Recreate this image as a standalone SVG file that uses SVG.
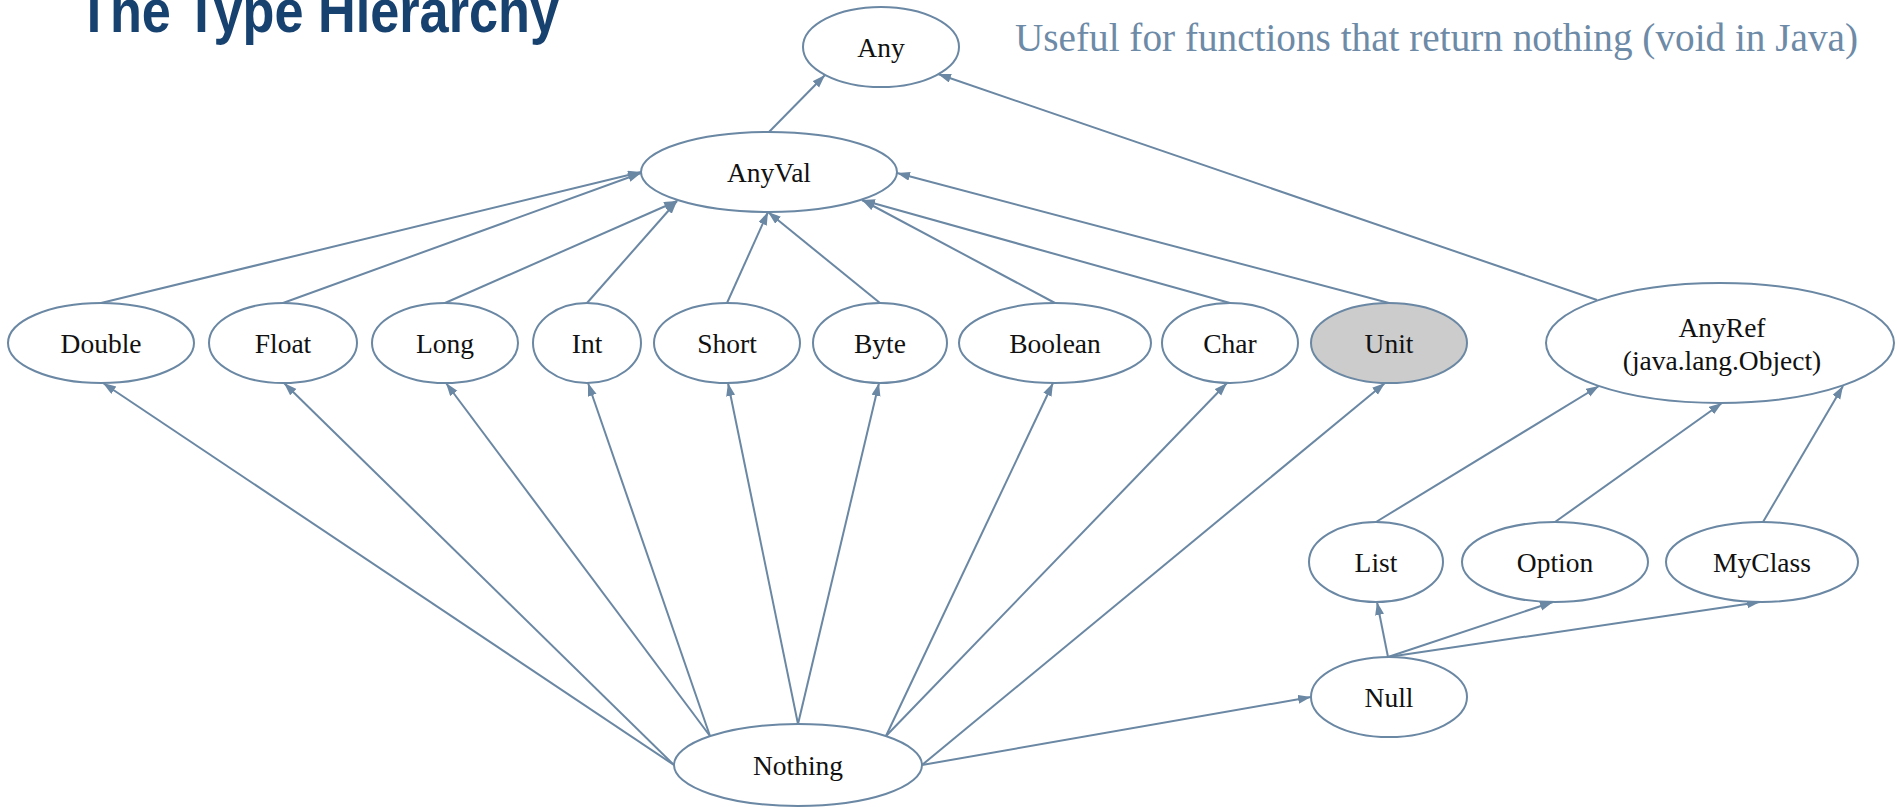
<svg xmlns="http://www.w3.org/2000/svg" width="1897" height="807" viewBox="0 0 1897 807">
<style>
.n ellipse{fill:#ffffff;stroke:#6a87a3;stroke-width:2}
.n text{font-family:"Liberation Serif","DejaVu Serif",serif;font-size:27.5px;fill:#111111;text-anchor:middle}
#edges line{stroke:#6a87a3;stroke-width:2;fill:none;marker-end:url(#ah)}
.title{font-family:"Liberation Sans Narrow","Liberation Sans",sans-serif;font-size:62px;font-weight:bold;fill:#17416f}
.sub{font-family:"Liberation Serif","DejaVu Serif",serif;font-size:39px;fill:#6d8aa7}
</style>
<defs>
<marker id="ah" markerUnits="userSpaceOnUse" markerWidth="14" markerHeight="10" refX="13" refY="4.5" orient="auto">
<path d="M0,0 L13,4.5 L0,9 z" fill="#6a87a3"/>
</marker>
</defs>
<rect width="1897" height="807" fill="#ffffff"/>
<text class="title" x="78" y="32" textLength="481" lengthAdjust="spacingAndGlyphs">The Type Hierarchy</text>
<text class="sub" x="1015" y="51" textLength="843" lengthAdjust="spacingAndGlyphs">Useful for functions that return nothing (void in Java)</text>
<g id="edges">
<line x1="769" y1="132" x2="825" y2="75"/>
<line x1="1597" y1="300" x2="938" y2="74"/>
<line x1="101" y1="303" x2="641" y2="172"/>
<line x1="283" y1="303" x2="641" y2="173"/>
<line x1="445" y1="303" x2="677" y2="201"/>
<line x1="587" y1="303" x2="677" y2="201"/>
<line x1="727" y1="303" x2="768" y2="212"/>
<line x1="880" y1="303" x2="768" y2="212"/>
<line x1="1055" y1="303" x2="862" y2="200"/>
<line x1="1230" y1="303" x2="862" y2="200"/>
<line x1="1389" y1="303" x2="897" y2="173"/>
<line x1="674" y1="765" x2="103" y2="383"/>
<line x1="674" y1="765" x2="284" y2="383"/>
<line x1="710" y1="736" x2="446" y2="383"/>
<line x1="710" y1="736" x2="588" y2="383"/>
<line x1="798" y1="724" x2="728" y2="383"/>
<line x1="798" y1="724" x2="879" y2="383"/>
<line x1="886" y1="736" x2="1053" y2="383"/>
<line x1="886" y1="736" x2="1227" y2="383"/>
<line x1="922" y1="765" x2="1385" y2="383"/>
<line x1="922" y1="765" x2="1311" y2="697"/>
<line x1="1388" y1="657" x2="1377" y2="602"/>
<line x1="1388" y1="657" x2="1553" y2="602"/>
<line x1="1388" y1="657" x2="1760" y2="602"/>
<line x1="1376" y1="522" x2="1599" y2="386"/>
<line x1="1555" y1="522" x2="1722" y2="403"/>
<line x1="1763" y1="522" x2="1843" y2="386"/>
</g>
<g id="any" class="n"><ellipse cx="881" cy="47" rx="78" ry="40"/><text x="881" y="56.5">Any</text></g>
<g id="anyval" class="n"><ellipse cx="769" cy="172" rx="128" ry="40"/><text x="769" y="181.5">AnyVal</text></g>
<g id="double" class="n"><ellipse cx="101" cy="343" rx="93" ry="40"/><text x="101" y="352.5">Double</text></g>
<g id="float" class="n"><ellipse cx="283" cy="343" rx="74" ry="40"/><text x="283" y="352.5">Float</text></g>
<g id="long" class="n"><ellipse cx="445" cy="343" rx="73" ry="40"/><text x="445" y="352.5">Long</text></g>
<g id="int" class="n"><ellipse cx="587" cy="343" rx="54" ry="40"/><text x="587" y="352.5">Int</text></g>
<g id="short" class="n"><ellipse cx="727" cy="343" rx="73" ry="40"/><text x="727" y="352.5">Short</text></g>
<g id="byte" class="n"><ellipse cx="880" cy="343" rx="67" ry="40"/><text x="880" y="352.5">Byte</text></g>
<g id="boolean" class="n"><ellipse cx="1055" cy="343" rx="96" ry="40"/><text x="1055" y="352.5">Boolean</text></g>
<g id="char" class="n"><ellipse cx="1230" cy="343" rx="68" ry="40"/><text x="1230" y="352.5">Char</text></g>
<g id="unit" class="n"><ellipse cx="1389" cy="343" rx="78" ry="40" style="fill:#cccccc"/><text x="1389" y="352.5">Unit</text></g>
<g id="anyref" class="n"><ellipse cx="1720" cy="343" rx="174" ry="60"/><text x="1722" y="337">AnyRef</text><text x="1722" y="370">(java.lang.Object)</text></g>
<g id="list" class="n"><ellipse cx="1376" cy="562" rx="67" ry="40"/><text x="1376" y="571.5">List</text></g>
<g id="option" class="n"><ellipse cx="1555" cy="562" rx="93" ry="40"/><text x="1555" y="571.5">Option</text></g>
<g id="myclass" class="n"><ellipse cx="1762" cy="562" rx="96" ry="40"/><text x="1762" y="571.5">MyClass</text></g>
<g id="null" class="n"><ellipse cx="1389" cy="697" rx="78" ry="40"/><text x="1389" y="706.5">Null</text></g>
<g id="nothing" class="n"><ellipse cx="798" cy="765" rx="124" ry="41"/><text x="798" y="774.5">Nothing</text></g>
</svg>
